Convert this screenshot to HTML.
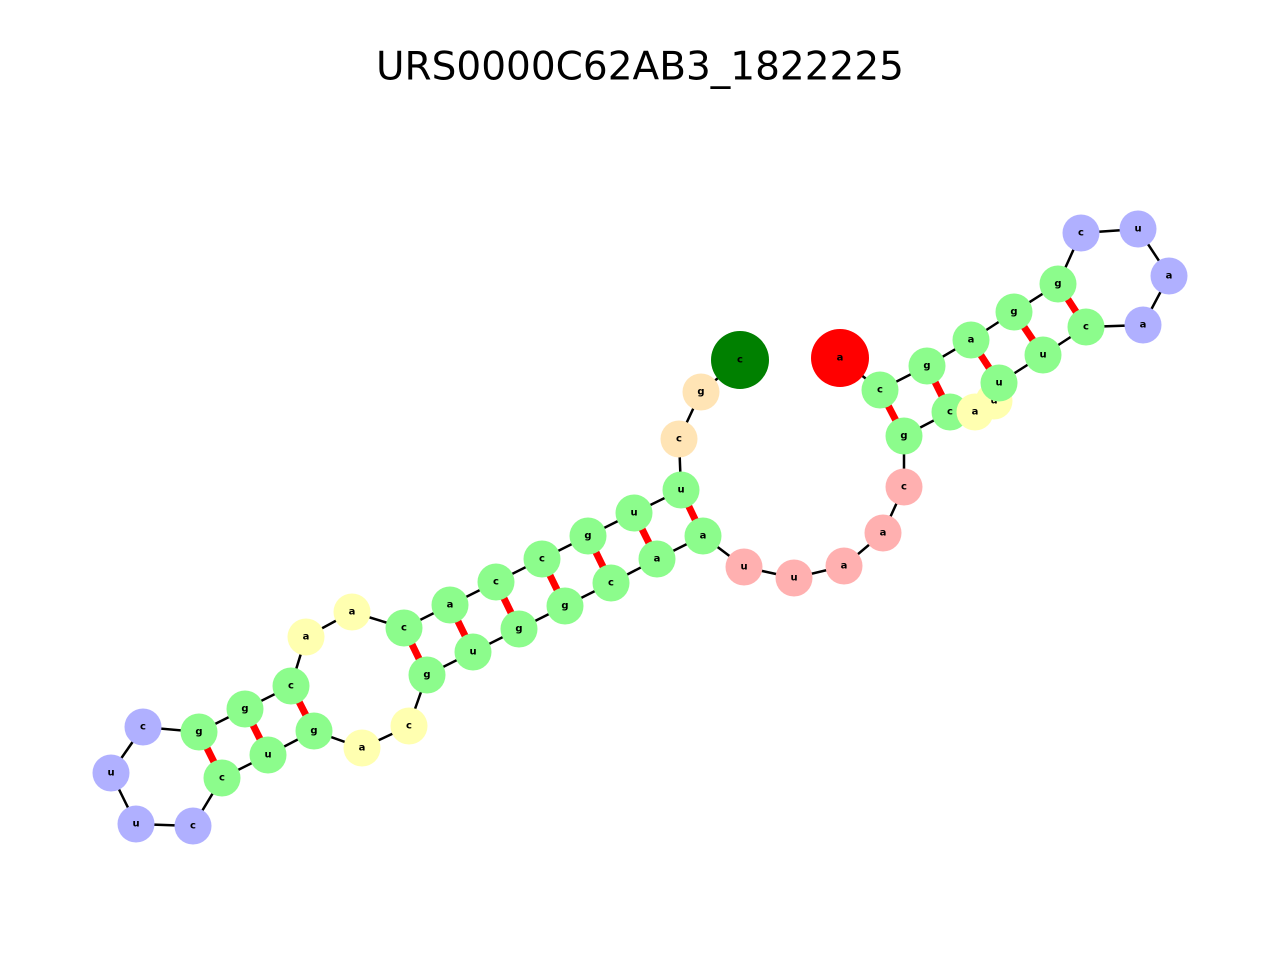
<!DOCTYPE html>
<html><head><meta charset="utf-8"><style>
html,body{margin:0;padding:0;background:#fff;}
svg{display:block}
text{font-family:"DejaVu Sans","Liberation Sans",sans-serif;}
.l{font-size:10px;font-weight:bold;text-anchor:middle;dominant-baseline:central;fill:#000}
</style></head><body>
<svg width="1280" height="960" viewBox="0 0 1280 960" xmlns="http://www.w3.org/2000/svg">
<text x="640" y="67" font-size="39" text-anchor="middle" dominant-baseline="central" fill="#000">URS0000C62AB3_1822225</text>
<g stroke="#000" stroke-width="2.5" fill="none">
<polyline points="740,360 701,392 679,439 681,490 634,513 588,536 542,559 496,582 450,605 404,628 352,612 306,637 291,686 245,709 199,732 143,727 111,773 136,824 193,826 222,778 268,755 314,731 362,748 409,726 427,675 473,652 519,629 565,606 611,583 657,559 703,536 744,567 794,578 844,566 883,533 904,487 904,436 950,412 975,412 994,401 999,383 1043,355 1086,327 1143,325 1169,276 1138,229 1081,233 1058,284 1014,312 971,340 927,366 880,390 840,358"/>
</g>
<g stroke="#f00" stroke-width="7">
<line x1="681" y1="490" x2="703" y2="536"/>
<line x1="634" y1="513" x2="657" y2="559"/>
<line x1="588" y1="536" x2="611" y2="583"/>
<line x1="542" y1="559" x2="565" y2="606"/>
<line x1="496" y1="582" x2="519" y2="629"/>
<line x1="450" y1="605" x2="473" y2="652"/>
<line x1="404" y1="628" x2="427" y2="675"/>
<line x1="291" y1="686" x2="314" y2="731"/>
<line x1="245" y1="709" x2="268" y2="755"/>
<line x1="199" y1="732" x2="222" y2="778"/>
<line x1="904" y1="436" x2="880" y2="390"/>
<line x1="950" y1="412" x2="927" y2="366"/>
<line x1="999" y1="383" x2="971" y2="340"/>
<line x1="1043" y1="355" x2="1014" y2="312"/>
<line x1="1086" y1="327" x2="1058" y2="284"/>
</g>
<g>
<circle cx="740" cy="360" r="29" fill="#008000"/><text class="l" x="740" y="360">c</text>
<circle cx="701" cy="392" r="18.5" fill="#ffe4b5"/><text class="l" x="701" y="392">g</text>
<circle cx="679" cy="439" r="18.5" fill="#ffe4b5"/><text class="l" x="679" y="439">c</text>
<circle cx="681" cy="490" r="18.5" fill="#8cfc8c"/><text class="l" x="681" y="490">u</text>
<circle cx="634" cy="513" r="18.5" fill="#8cfc8c"/><text class="l" x="634" y="513">u</text>
<circle cx="588" cy="536" r="18.5" fill="#8cfc8c"/><text class="l" x="588" y="536">g</text>
<circle cx="542" cy="559" r="18.5" fill="#8cfc8c"/><text class="l" x="542" y="559">c</text>
<circle cx="496" cy="582" r="18.5" fill="#8cfc8c"/><text class="l" x="496" y="582">c</text>
<circle cx="450" cy="605" r="18.5" fill="#8cfc8c"/><text class="l" x="450" y="605">a</text>
<circle cx="404" cy="628" r="18.5" fill="#8cfc8c"/><text class="l" x="404" y="628">c</text>
<circle cx="352" cy="612" r="18.5" fill="#ffffb0"/><text class="l" x="352" y="612">a</text>
<circle cx="306" cy="637" r="18.5" fill="#ffffb0"/><text class="l" x="306" y="637">a</text>
<circle cx="291" cy="686" r="18.5" fill="#8cfc8c"/><text class="l" x="291" y="686">c</text>
<circle cx="245" cy="709" r="18.5" fill="#8cfc8c"/><text class="l" x="245" y="709">g</text>
<circle cx="199" cy="732" r="18.5" fill="#8cfc8c"/><text class="l" x="199" y="732">g</text>
<circle cx="143" cy="727" r="18.5" fill="#b0b0ff"/><text class="l" x="143" y="727">c</text>
<circle cx="111" cy="773" r="18.5" fill="#b0b0ff"/><text class="l" x="111" y="773">u</text>
<circle cx="136" cy="824" r="18.5" fill="#b0b0ff"/><text class="l" x="136" y="824">u</text>
<circle cx="193" cy="826" r="18.5" fill="#b0b0ff"/><text class="l" x="193" y="826">c</text>
<circle cx="222" cy="778" r="18.5" fill="#8cfc8c"/><text class="l" x="222" y="778">c</text>
<circle cx="268" cy="755" r="18.5" fill="#8cfc8c"/><text class="l" x="268" y="755">u</text>
<circle cx="314" cy="731" r="18.5" fill="#8cfc8c"/><text class="l" x="314" y="731">g</text>
<circle cx="362" cy="748" r="18.5" fill="#ffffb0"/><text class="l" x="362" y="748">a</text>
<circle cx="409" cy="726" r="18.5" fill="#ffffb0"/><text class="l" x="409" y="726">c</text>
<circle cx="427" cy="675" r="18.5" fill="#8cfc8c"/><text class="l" x="427" y="675">g</text>
<circle cx="473" cy="652" r="18.5" fill="#8cfc8c"/><text class="l" x="473" y="652">u</text>
<circle cx="519" cy="629" r="18.5" fill="#8cfc8c"/><text class="l" x="519" y="629">g</text>
<circle cx="565" cy="606" r="18.5" fill="#8cfc8c"/><text class="l" x="565" y="606">g</text>
<circle cx="611" cy="583" r="18.5" fill="#8cfc8c"/><text class="l" x="611" y="583">c</text>
<circle cx="657" cy="559" r="18.5" fill="#8cfc8c"/><text class="l" x="657" y="559">a</text>
<circle cx="703" cy="536" r="18.5" fill="#8cfc8c"/><text class="l" x="703" y="536">a</text>
<circle cx="744" cy="567" r="18.5" fill="#ffb0b0"/><text class="l" x="744" y="567">u</text>
<circle cx="794" cy="578" r="18.5" fill="#ffb0b0"/><text class="l" x="794" y="578">u</text>
<circle cx="844" cy="566" r="18.5" fill="#ffb0b0"/><text class="l" x="844" y="566">a</text>
<circle cx="883" cy="533" r="18.5" fill="#ffb0b0"/><text class="l" x="883" y="533">a</text>
<circle cx="904" cy="487" r="18.5" fill="#ffb0b0"/><text class="l" x="904" y="487">c</text>
<circle cx="904" cy="436" r="18.5" fill="#8cfc8c"/><text class="l" x="904" y="436">g</text>
<circle cx="950" cy="412" r="18.5" fill="#8cfc8c"/><text class="l" x="950" y="412">c</text>
<circle cx="994" cy="401" r="18.5" fill="#ffffb0"/><text class="l" x="994" y="401">u</text>
<circle cx="975" cy="412" r="18.5" fill="#ffffb0"/><text class="l" x="975" y="412">a</text>
<circle cx="999" cy="383" r="18.5" fill="#8cfc8c"/><text class="l" x="999" y="383">u</text>
<circle cx="1043" cy="355" r="18.5" fill="#8cfc8c"/><text class="l" x="1043" y="355">u</text>
<circle cx="1086" cy="327" r="18.5" fill="#8cfc8c"/><text class="l" x="1086" y="327">c</text>
<circle cx="1143" cy="325" r="18.5" fill="#b0b0ff"/><text class="l" x="1143" y="325">a</text>
<circle cx="1169" cy="276" r="18.5" fill="#b0b0ff"/><text class="l" x="1169" y="276">a</text>
<circle cx="1138" cy="229" r="18.5" fill="#b0b0ff"/><text class="l" x="1138" y="229">u</text>
<circle cx="1081" cy="233" r="18.5" fill="#b0b0ff"/><text class="l" x="1081" y="233">c</text>
<circle cx="1058" cy="284" r="18.5" fill="#8cfc8c"/><text class="l" x="1058" y="284">g</text>
<circle cx="1014" cy="312" r="18.5" fill="#8cfc8c"/><text class="l" x="1014" y="312">g</text>
<circle cx="971" cy="340" r="18.5" fill="#8cfc8c"/><text class="l" x="971" y="340">a</text>
<circle cx="927" cy="366" r="18.5" fill="#8cfc8c"/><text class="l" x="927" y="366">g</text>
<circle cx="880" cy="390" r="18.5" fill="#8cfc8c"/><text class="l" x="880" y="390">c</text>
<circle cx="840" cy="358" r="29" fill="#ff0000"/><text class="l" x="840" y="358">a</text>
</g>
</svg>
</body></html>
